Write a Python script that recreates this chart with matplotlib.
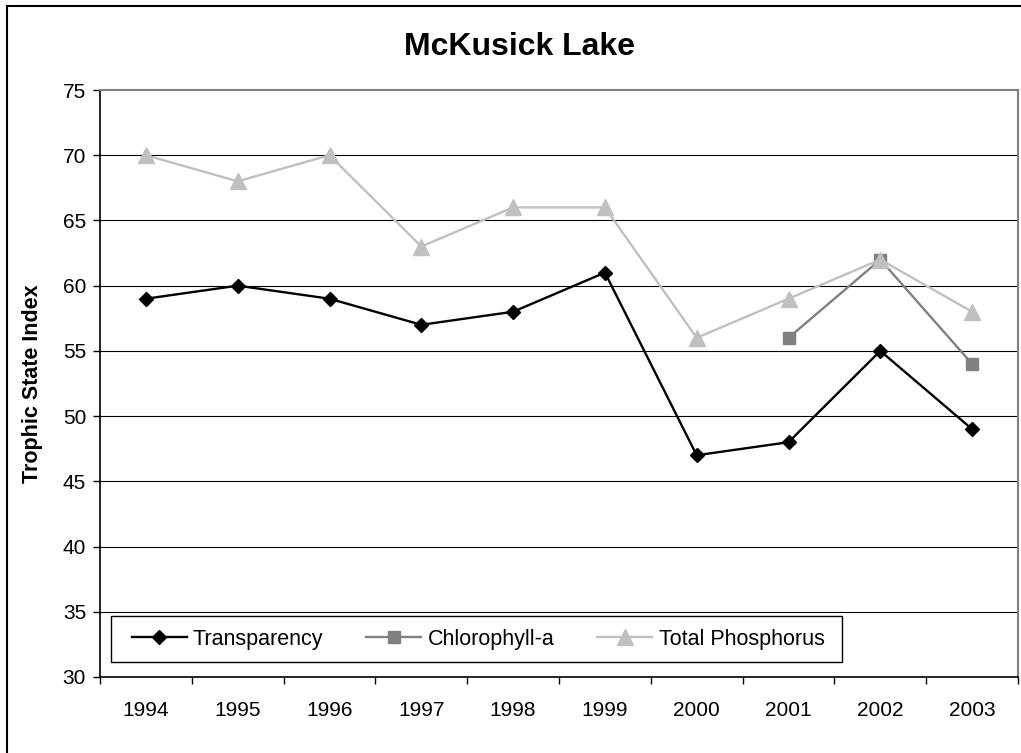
import matplotlib
matplotlib.use('Agg')
import matplotlib.pyplot as plt
from matplotlib.patches import Rectangle

plt.rcParams['font.family'] = ['Liberation Sans', 'DejaVu Sans']

years = ['1994', '1995', '1996', '1997', '1998', '1999', '2000', '2001', '2002', '2003']
transparency = [59, 60, 59, 57, 58, 61, 47, 48, 55, 49]
chlorophyll = [None, None, None, None, None, None, None, 56, 62, 54]
phosphorus = [70, 68, 70, 63, 66, 66, 56, 59, 62, 58]
y_ticks = [30, 35, 40, 45, 50, 55, 60, 65, 70, 75]

W, H = 1021, 753
fig = plt.figure(figsize=(W / 100, H / 100), dpi=100)
ax = fig.add_axes([100 / W, 1 - 677 / H, 918 / W, 587 / H])

x = list(range(len(years)))
chl_x = [i for i, v in zip(x, chlorophyll) if v is not None]
chl_y = [v for v in chlorophyll if v is not None]

# later series drawn on top, like excel
ax.plot(x, transparency, color='black', lw=1.7, marker='D', ms=7.5,
        label='Transparency', zorder=3)
ax.plot(chl_x, chl_y, color='#808080', lw=1.7, marker='s', ms=8.5,
        label='Chlorophyll-a', zorder=4)
ax.plot(x, phosphorus, color='#c0c0c0', lw=1.7, marker='^', ms=11,
        label='Total Phosphorus', zorder=5)

ax.set_xlim(-0.5, len(years) - 0.5)
ax.set_ylim(30, 75)
ax.set_yticks(y_ticks)
ax.tick_params(axis='y', labelsize=15, length=5, width=1, pad=5, direction='out')

# excel style: ticks between categories, labels centred on categories
ax.set_xticks([i - 0.5 for i in range(len(years) + 1)])
ax.set_xticklabels([])
ax.set_xticks(x, minor=True)
ax.set_xticklabels(years, minor=True)
ax.tick_params(axis='x', which='major', length=5, width=1, direction='out')
ax.tick_params(axis='x', which='minor', length=0, labelsize=15, pad=17)

for v in y_ticks[1:-1]:
    ax.axhline(v, color='black', lw=0.8, zorder=1)

ax.spines['top'].set_color('#808080')
ax.spines['right'].set_color('#808080')
ax.spines['top'].set_linewidth(1.5)
ax.spines['right'].set_linewidth(1.5)
ax.spines['left'].set_linewidth(1.2)
ax.spines['bottom'].set_linewidth(1.2)

ax.set_ylabel('Trophic State Index', fontsize=15.5, fontweight='bold', labelpad=14)
fig.text(520 / W, 1 - 47 / H, 'McKusick Lake', fontsize=23, fontweight='bold',
         ha='center', va='center')

# legend box drawn separately, entries spread across it
fig.patches.append(Rectangle((111 / W, 1 - 662 / H), 731 / W, 46 / H,
                             transform=fig.transFigure, facecolor='white',
                             edgecolor='black', lw=1.0, zorder=6))
handles, labels = ax.get_legend_handles_labels()
leg = fig.legend(handles, labels,
                 ncol=3, loc='center', fontsize=15.5,
                 bbox_to_anchor=(123 / W, 1 - 662 / H, 710 / W, 46 / H),
                 bbox_transform=fig.transFigure, mode='expand',
                 handlelength=2.55, handletextpad=0.3, columnspacing=1.9,
                 borderaxespad=0, frameon=False)
leg.set_zorder(7)

fig.patches.append(Rectangle((7 / W, -0.1), 1.2, 1 - 6 / H + 0.1,
                             transform=fig.transFigure, fill=False,
                             edgecolor='black', lw=1.5))

fig.savefig('out.png', dpi=100)
